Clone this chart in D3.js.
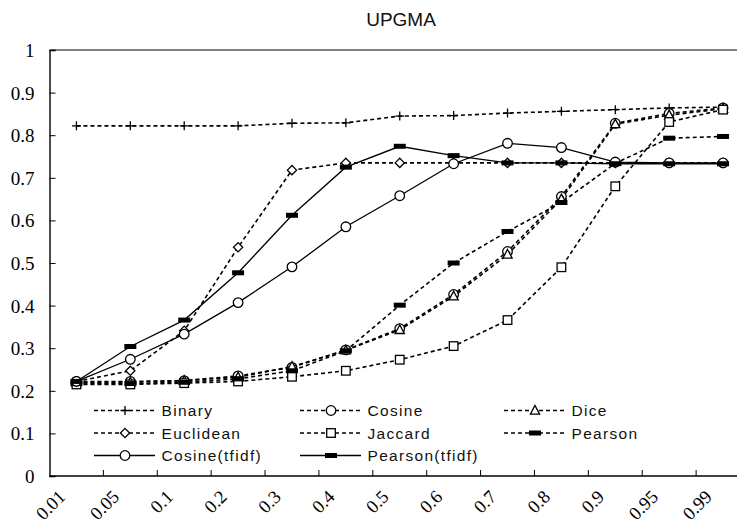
<!DOCTYPE html>
<html>
<head>
<meta charset="utf-8">
<script src="https://cdn.jsdelivr.net/npm/d3@7/dist/d3.min.js"></script>
<style>
  html, body { margin: 0; padding: 0; background: #fff; }
  svg { display: block; }
  .serif { font-family: "Liberation Serif", "Times New Roman", "DejaVu Serif", serif; }
</style>
</head>
<body>
<svg id="chart" width="737" height="526"></svg>
<script>
// Threshold categories on the x axis
const thresholds = ["0.01","0.05","0.1","0.2","0.3","0.4","0.5","0.6","0.7","0.8","0.9","0.95","0.99"];

// Y axis tick values
const yTicks = [0, 0.1, 0.2, 0.3, 0.4, 0.5, 0.6, 0.7, 0.8, 0.9, 1];

// Series values, one per threshold
const binary       = [0.822,0.822,0.822,0.822,0.828,0.829,0.845,0.846,0.852,0.856,0.860,0.864,0.866];
const cosine       = [0.222,0.222,0.224,0.235,0.255,0.296,0.346,0.426,0.527,0.656,0.828,0.851,0.864];
const dice         = [0.220,0.220,0.224,0.232,0.257,0.295,0.343,0.422,0.520,0.650,0.826,0.847,0.862];
const euclidean    = [0.222,0.247,0.341,0.537,0.718,0.735,0.735,0.735,0.735,0.735,0.735,0.735,0.735];
const jaccard      = [0.215,0.215,0.218,0.222,0.233,0.247,0.273,0.305,0.366,0.490,0.680,0.831,0.860];
const pearson      = [0.217,0.217,0.220,0.228,0.247,0.294,0.401,0.500,0.574,0.642,0.734,0.793,0.797];
const cosineTfidf  = [0.222,0.274,0.333,0.407,0.491,0.585,0.658,0.733,0.781,0.771,0.737,0.735,0.735];
const pearsonTfidf = [0.222,0.304,0.366,0.477,0.612,0.725,0.774,0.752,0.735,0.735,0.733,0.733,0.733];

const seriesNames = ["Binary","Cosine","Dice","Euclidean","Jaccard","Pearson","Cosine(tfidf)","Pearson(tfidf)"];
const seriesValues = [binary, cosine, dice, euclidean, jaccard, pearson, cosineTfidf, pearsonTfidf];
const seriesMarkers = ["plus","circle","triangle","diamond","square","bar","circle","bar"];
const seriesDashed = [true, true, true, true, true, true, false, false];

const svg = d3.select("#chart");
const plot = { left: 49.5, right: 750, top: 50, bottom: 476 };

const x = d3.scaleBand().domain(thresholds).range([plot.left, plot.right]).padding(0);
const y = d3.scaleLinear().domain([0, 1]).range([plot.bottom, plot.top]);
const cx = d => x(d) + x.bandwidth() / 2;

// Title
svg.append("text")
  .attr("x", 401).attr("y", 26)
  .attr("text-anchor", "middle")
  .style("font-family", "'Liberation Sans', Arial, sans-serif")
  .style("font-size", "19px")
  .style("fill", "#111")
  .text("UPGMA");

// Frame top line
svg.append("line")
  .attr("x1", plot.left).attr("x2", plot.right)
  .attr("y1", plot.top).attr("y2", plot.top)
  .attr("stroke", "#000").attr("stroke-width", 1.2);

// Y axis with inward ticks
const yAxis = svg.append("g")
  .attr("transform", `translate(${plot.left},0)`)
  .call(d3.axisLeft(y).tickValues(yTicks).tickSize(-6).tickFormat(d => String(d)));
yAxis.attr("font-family", null).attr("font-size", null);
yAxis.select(".domain").attr("stroke", "#000").attr("stroke-width", 1.4);
yAxis.selectAll(".tick line").attr("stroke", "#000");
yAxis.selectAll(".tick text")
  .attr("class", "serif")
  .attr("x", -15)
  .attr("dy", "0.34em")
  .attr("text-anchor", "end")
  .style("font-size", "19px")
  .style("fill", "#000");

// X axis line
svg.append("line")
  .attr("x1", plot.left).attr("x2", plot.right)
  .attr("y1", plot.bottom).attr("y2", plot.bottom)
  .attr("stroke", "#000").attr("stroke-width", 1.4);

// Inward ticks at category boundaries
svg.append("g").selectAll("line")
  .data(thresholds.slice(1))
  .join("line")
  .attr("x1", d => x(d)).attr("x2", d => x(d))
  .attr("y1", plot.bottom).attr("y2", plot.bottom - 6)
  .attr("stroke", "#000").attr("stroke-width", 1);

// Rotated category labels
svg.append("g").selectAll("text")
  .data(thresholds)
  .join("text")
  .attr("class", "serif")
  .attr("transform", d => `translate(${cx(d) - 10},498) rotate(-45)`)
  .attr("text-anchor", "end")
  .style("font-size", "18.5px")
  .style("fill", "#000")
  .text(d => d);

// Marker drawing
function drawMarker(g, type) {
  const sw = 1.3;
  if (type === "plus") {
    g.append("path").attr("d", "M-4.5,0H4.5M0,-4.5V4.5")
      .attr("stroke", "#000").attr("stroke-width", sw).attr("fill", "none");
  } else if (type === "circle") {
    g.append("circle").attr("r", 4.8)
      .attr("fill", "#fff").attr("stroke", "#000").attr("stroke-width", sw);
  } else if (type === "triangle") {
    g.append("path").attr("d", "M0,-5L4.6,3.6H-4.6Z")
      .attr("fill", "#fff").attr("stroke", "#000").attr("stroke-width", sw);
  } else if (type === "diamond") {
    g.append("path").attr("d", "M0,-4.6L4.6,0L0,4.6L-4.6,0Z")
      .attr("fill", "#fff").attr("stroke", "#000").attr("stroke-width", sw);
  } else if (type === "square") {
    g.append("rect").attr("x", -4.3).attr("y", -4.3).attr("width", 8.6).attr("height", 8.6)
      .attr("fill", "#fff").attr("stroke", "#000").attr("stroke-width", sw);
  } else if (type === "bar") {
    g.append("rect").attr("x", -6).attr("y", -2.5).attr("width", 12).attr("height", 5)
      .attr("fill", "#000");
  }
}

const line = d3.line().x(d => cx(d.t)).y(d => y(d.v));

// Series lines and markers
seriesValues.forEach((vals, i) => {
  const pts = thresholds.map((t, j) => ({ t, v: vals[j] }));
  const g = svg.append("g");
  g.append("path")
    .datum(pts)
    .attr("d", line)
    .attr("fill", "none")
    .attr("stroke", "#000")
    .attr("stroke-width", seriesDashed[i] ? 1.6 : 1.3)
    .attr("stroke-dasharray", seriesDashed[i] ? "4,3" : null);
  g.selectAll("g.m")
    .data(pts)
    .join("g")
    .attr("class", "m")
    .attr("transform", d => `translate(${cx(d.t)},${y(d.v)})`)
    .each(function () { drawMarker(d3.select(this), seriesMarkers[i]); });
});

// Legend: three columns, three rows
const legendCols = [94, 300, 504];
const legendRows = [410.5, 433, 455.5];
const legend = svg.append("g");
seriesNames.forEach((name, i) => {
  const lx = legendCols[i % 3];
  const ly = legendRows[Math.floor(i / 3)];
  const item = legend.append("g").attr("transform", `translate(${lx},${ly})`);
  item.append("line")
    .attr("x1", 0).attr("x2", 61).attr("y1", 0).attr("y2", 0)
    .attr("stroke", "#000")
    .attr("stroke-width", seriesDashed[i] ? 1.6 : 1.3)
    .attr("stroke-dasharray", seriesDashed[i] ? "4,3" : null);
  const m = item.append("g").attr("transform", "translate(31,0)");
  drawMarker(m, seriesMarkers[i]);
  item.append("text")
    .attr("x", 67.5).attr("y", 0).attr("dy", "0.36em")
    .style("font-family", "'Liberation Sans', Arial, sans-serif")
    .style("font-size", "15.5px")
    .style("letter-spacing", "1.3px")
    .style("fill", "#111")
    .text(name);
});
</script>
</body>
</html>
